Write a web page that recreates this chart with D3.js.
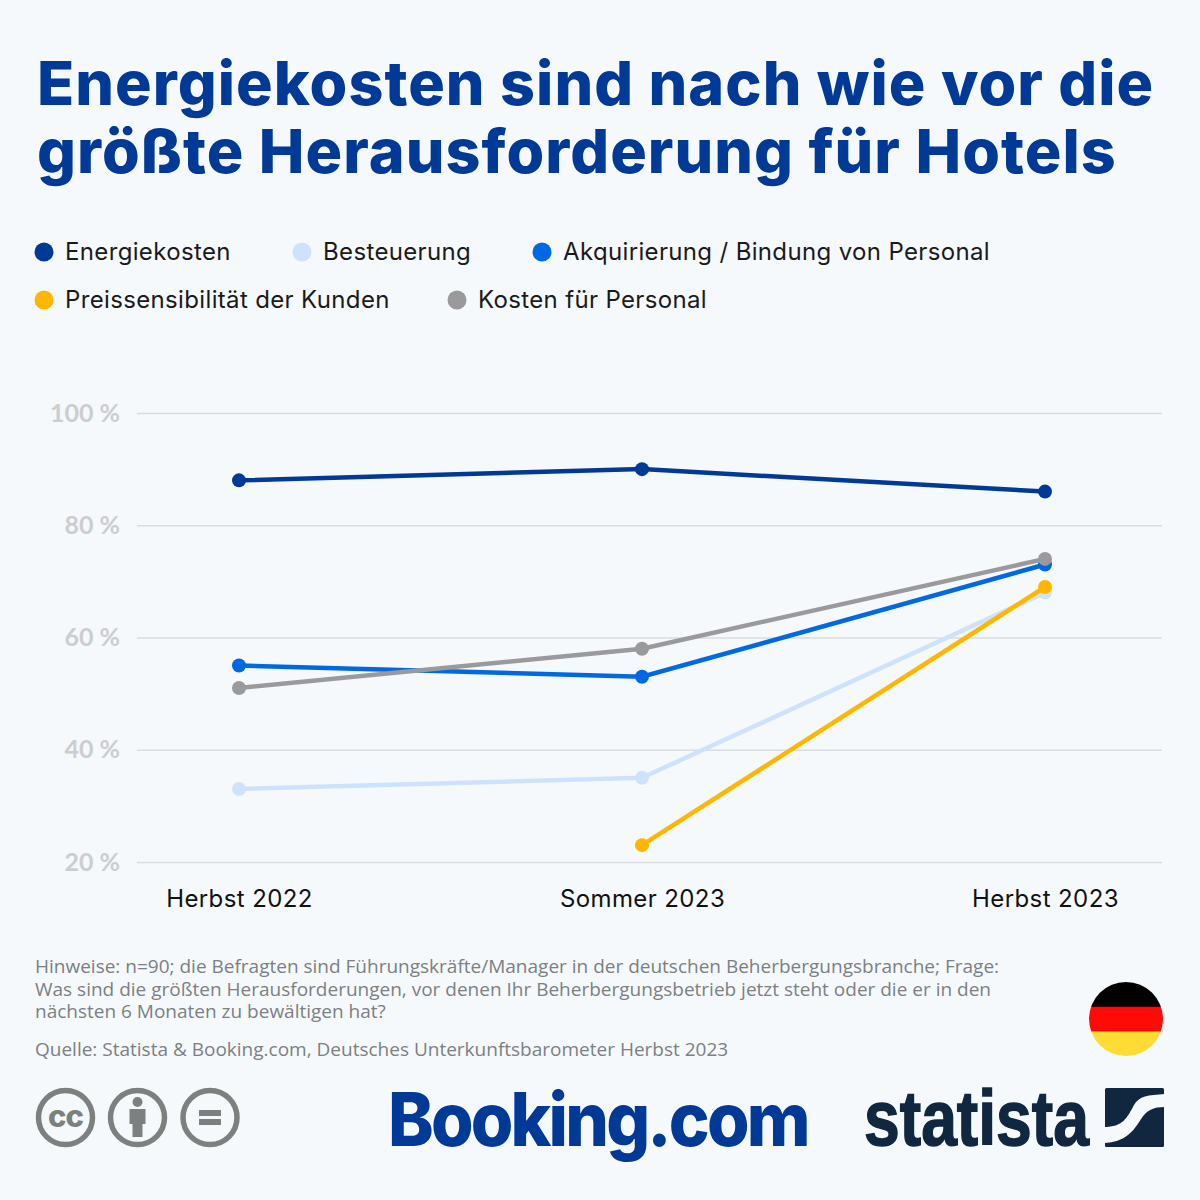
<!DOCTYPE html>
<html>
<head>
<meta charset="utf-8">
<script src="https://cdn.jsdelivr.net/npm/d3@7"></script>
<style>
  html, body { margin: 0; padding: 0; background: #f5f9fc; }
  svg { display: block; }
</style>
</head>
<body>
<svg id="chart" width="1200" height="1200"></svg>
<script>
const periods = ["Herbst 2022", "Sommer 2023", "Herbst 2023"];
const seriesNames = ["Energiekosten", "Besteuerung", "Akquirierung / Bindung von Personal", "Preissensibilität der Kunden", "Kosten für Personal"];
const energiekosten = [88, 90, 86];
const besteuerung = [33, 35, 68];
const personalBindung = [55, 53, 73];
const preissensibilitaet = [null, 23, 69];
const personalKosten = [51, 58, 74];
const yTicks = [20, 40, 60, 80, 100];
const seriesColors = ["#003a96", "#cfe2fb", "#0068e3", "#ffb600", "#9a9a9c"];
const titleLines = ["Energiekosten sind nach wie vor die", "größte Herausforderung für Hotels"];
const noteLines = [
  "Hinweise: n=90; die Befragten sind Führungskräfte/Manager in der deutschen Beherbergungsbranche; Frage:",
  "Was sind die größten Herausforderungen, vor denen Ihr Beherbergungsbetrieb jetzt steht oder die er in den",
  "nächsten 6 Monaten zu bewältigen hat?"
];
const sourceLine = "Quelle: Statista & Booking.com, Deutsches Unterkunftsbarometer Herbst 2023";

const svg = d3.select("#chart");
const allValues = [energiekosten, besteuerung, personalBindung, preissensibilitaet, personalKosten];

svg.append("rect").attr("width", 1200).attr("height", 1200).attr("fill", "#f5f9fc");

// title
svg.selectAll("text.title").data(titleLines).join("text")
  .attr("class", "title")
  .attr("x", 37)
  .attr("y", (d, i) => 105 + i * 68)
  .attr("font-family", "Inter")
  .attr("font-weight", 800)
  .attr("font-size", 61)
  .attr("letter-spacing", 1.05)
  .attr("fill", "#003a96")
  .text(d => d);

// legend
const legendPos = [[44, 252], [302, 252], [542, 252], [44, 300], [457, 300]];
const legend = svg.selectAll("g.legend").data(seriesNames).join("g")
  .attr("class", "legend")
  .attr("transform", (d, i) => `translate(${legendPos[i][0]},${legendPos[i][1]})`);
legend.append("circle").attr("r", 9.5).attr("fill", (d, i) => seriesColors[i]);
legend.append("text")
  .attr("x", 21)
  .attr("y", 8)
  .attr("font-family", "Inter")
  .attr("font-size", 24)
  .attr("letter-spacing", 0.35)
  .attr("fill", "#1a1a1a")
  .text(d => d);

// scales
const xScale = d3.scalePoint().domain(periods).range([239, 1045]);
const yScale = d3.scaleLinear().domain([20, 100]).range([862, 413]);

// y axis
const yAxis = svg.append("g")
  .attr("transform", "translate(137,0)")
  .call(d3.axisLeft(yScale).tickValues(yTicks).tickSize(-1025).tickPadding(17).tickFormat(d => d + " %"));
yAxis.select(".domain").remove();
yAxis.selectAll(".tick line").attr("stroke", "#d8dde3").attr("stroke-width", 1.5);
yAxis.selectAll(".tick text")
  .attr("font-family", "Lato")
  .attr("font-weight", 700)
  .attr("font-size", 25)
  .attr("fill", "#cccdd0");

// x axis
const xAxis = svg.append("g")
  .attr("transform", "translate(0,862)")
  .call(d3.axisBottom(xScale).tickSize(0).tickPadding(28));
xAxis.select(".domain").remove();
xAxis.selectAll(".tick text")
  .attr("font-family", "Inter")
  .attr("font-size", 24)
  .attr("letter-spacing", 0.4)
  .attr("fill", "#111");

// lines
const line = d3.line()
  .defined(d => d !== null)
  .x((d, i) => xScale(periods[i]))
  .y(d => yScale(d));

allValues.forEach((values, s) => {
  svg.append("path")
    .attr("d", line(values))
    .attr("fill", "none")
    .attr("stroke", seriesColors[s])
    .attr("stroke-width", 4.5);
  svg.selectAll(null).data(values.map((v, i) => ({ v, period: periods[i] })).filter(d => d.v !== null)).join("circle")
    .attr("cx", d => xScale(d.period))
    .attr("cy", d => yScale(d.v))
    .attr("r", 7)
    .attr("fill", seriesColors[s]);
});

// notes
svg.selectAll("text.note").data(noteLines).join("text")
  .attr("class", "note")
  .attr("x", 35)
  .attr("y", (d, i) => 973 + i * 22.5)
  .attr("font-family", "Open Sans")
  .attr("font-size", 19)
  .attr("fill", "#7b8083")
  .text(d => d);
svg.append("text")
  .attr("x", 35).attr("y", 1056)
  .attr("font-family", "Open Sans")
  .attr("font-size", 19)
  .attr("fill", "#7b8083")
  .text(sourceLine);

// cc icons
const cc = svg.append("g").attr("fill", "none").attr("stroke", "#7c8180").attr("stroke-width", 5.5);
[65.5, 137.5, 210].forEach(cx => cc.append("circle").attr("cx", cx).attr("cy", 1117.5).attr("r", 27));
svg.append("text").attr("x", 65.5).attr("y", 1127)
  .attr("text-anchor", "middle")
  .attr("font-family", "Inter").attr("font-weight", 800).attr("font-size", 31).attr("letter-spacing", -1)
  .attr("fill", "#7c8180").text("cc");
const person = svg.append("g").attr("fill", "#7c8180");
person.append("circle").attr("cx", 137.5).attr("cy", 1102).attr("r", 5);
person.append("rect").attr("x", 129.5).attr("y", 1109).attr("width", 16).attr("height", 15);
person.append("rect").attr("x", 132.5).attr("y", 1109).attr("width", 10).attr("height", 28);
person.append("rect").attr("x", 199).attr("y", 1110).attr("width", 22).attr("height", 6);
person.append("rect").attr("x", 199).attr("y", 1119).attr("width", 22).attr("height", 6);

// flag
const clip = svg.append("clipPath").attr("id", "flagClip");
clip.append("circle").attr("cx", 1126).attr("cy", 1019).attr("r", 37);
const flag = svg.append("g").attr("clip-path", "url(#flagClip)");
["#000000", "#ff0a06", "#ffdb36"].forEach((c, i) => {
  flag.append("rect").attr("x", 1088).attr("y", 982 + i * 24.8).attr("width", 76).attr("height", 25).attr("fill", c);
});

// logos
svg.append("text")
  .attr("transform", "translate(388,1146) scale(0.93,1)")
  .attr("font-family", "Inter").attr("font-weight", 800).attr("font-size", 74)
  .attr("letter-spacing", -3)
  .attr("fill", "#003a96").text("Booking.com");
svg.append("text")
  .attr("x", 864).attr("y", 1145)
  .attr("font-family", "Liberation Sans").attr("font-weight", 700).attr("font-size", 78)
  .attr("textLength", 225).attr("lengthAdjust", "spacingAndGlyphs")
  .attr("stroke", "#10273f").attr("stroke-width", 1.5)
  .attr("fill", "#10273f").text("statista");

// statista mark
const mark = svg.append("g").attr("transform", "translate(1105,1088)");
mark.append("rect").attr("width", 59).attr("height", 59).attr("rx", 1.5).attr("fill", "#10273f");
mark.append("path")
  .attr("d", "M-1,39 C18,39 22,30 29,17 C34,8 43,7 60,6 L60,19 C48,19 42,22 36,31 C28,44 20,54 -1,55 Z")
  .attr("fill", "#f5f9fc");
</script>
</body>
</html>
